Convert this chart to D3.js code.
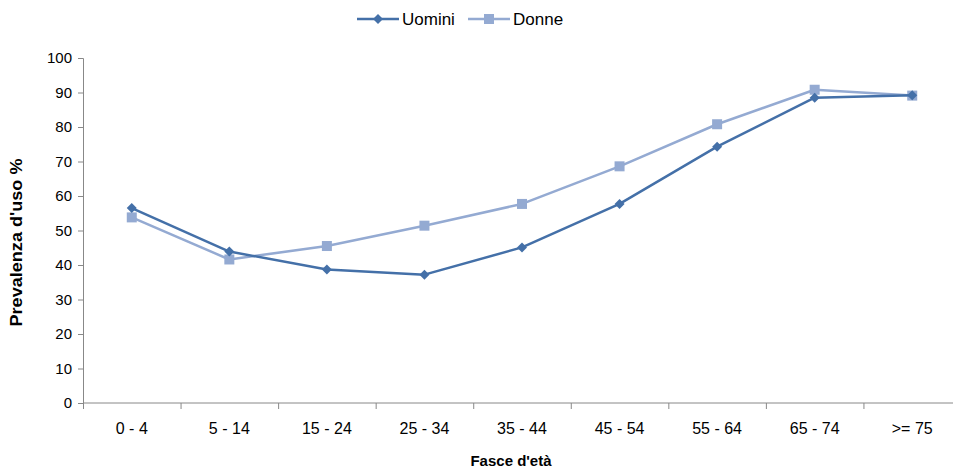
<!DOCTYPE html>
<html>
<head>
<meta charset="utf-8">
<script src="https://cdn.jsdelivr.net/npm/d3@7/dist/d3.min.js"></script>
<style>
  body { margin: 0; background: #fff; }
  svg { display: block; font-family: "Liberation Sans", Arial, sans-serif; }
</style>
</head>
<body>
<svg id="chart"></svg>
<script>
const WIDTH = 953;
const HEIGHT = 469;

const categories = ['0 - 4', '5 - 14', '15 - 24', '25 - 34', '35 - 44', '45 - 54', '55 - 64', '65 - 74', '>= 75'];
const uomini = [56.5, 43.9, 38.7, 37.2, 45.1, 57.7, 74.3, 88.5, 89.2];
const donne = [53.8, 41.6, 45.5, 51.4, 57.7, 68.6, 80.8, 90.8, 89.1];
const yTicks = [0, 10, 20, 30, 40, 50, 60, 70, 80, 90, 100];

const COLOR_U = '#4470a8';
const COLOR_D = '#94aad2';
const AXIS_COLOR = '#888';

const margin = { left: 83, top: 58, right: -8, bottom: 66 };

const svg = d3.select('#chart')
              .attr('width', WIDTH)
              .attr('height', HEIGHT);

const x = d3.scaleBand()
            .domain(categories)
            .range([margin.left, WIDTH - margin.right]);

const y = d3.scaleLinear()
            .domain([0, 100])
            .range([HEIGHT - margin.bottom, margin.top]);

// y axis
const yAxis = svg.append('g')
                 .attr('transform', `translate(${margin.left},0)`)
                 .call(d3.axisLeft(y).tickValues(yTicks).tickSize(5).tickPadding(6));
yAxis.select('.domain').attr('stroke', AXIS_COLOR);
yAxis.selectAll('.tick line').attr('stroke', AXIS_COLOR);
yAxis.selectAll('.tick text')
     .attr('font-size', '15px')
     .attr('fill', '#000')
     .style('font-family', '"Liberation Sans", Arial, sans-serif');

// x axis, ticks at category boundaries
const xAxisG = svg.append('g')
                  .attr('transform', `translate(0,${y(0)})`);
xAxisG.append('line')
      .attr('x1', margin.left).attr('x2', WIDTH + 20)
      .attr('stroke', AXIS_COLOR);
xAxisG.selectAll('line.tick')
      .data(categories)
      .enter().append('line')
      .attr('class', 'tick')
      .attr('x1', d => x(d) + 0.5).attr('x2', d => x(d) + 0.5)
      .attr('y1', 0).attr('y2', 6)
      .attr('stroke', AXIS_COLOR);
xAxisG.selectAll('text')
      .data(categories)
      .enter().append('text')
      .attr('x', d => x(d) + x.bandwidth() / 2)
      .attr('y', 31)
      .attr('text-anchor', 'middle')
      .attr('font-size', '16px')
      .text(d => d);

// axis titles
svg.append('text')
   .attr('transform', `translate(22,${(y(0) + y(100)) / 2 + 12}) rotate(-90)`)
   .attr('text-anchor', 'middle')
   .attr('font-size', '16px')
   .attr('font-weight', 'bold')
   .attr('textLength', 168)
   .attr('lengthAdjust', 'spacingAndGlyphs')
   .text("Prevalenza d'uso %");

svg.append('text')
   .attr('x', 511)
   .attr('y', 466)
   .attr('text-anchor', 'middle')
   .attr('font-size', '15px')
   .attr('font-weight', 'bold')
   .text("Fasce d'età");

// series
const line = d3.line()
               .x((d, i) => x(categories[i]) + x.bandwidth() / 2)
               .y(d => y(d));

const series = [
  { name: 'Uomini', values: uomini, color: COLOR_U, marker: 'diamond' },
  { name: 'Donne', values: donne, color: COLOR_D, marker: 'square' }
];

function marker(g, type, color) {
  if (type === 'diamond') {
    g.append('path')
     .attr('d', 'M0,-5L5,0L0,5L-5,0Z')
     .attr('fill', color);
  } else {
    g.append('rect')
     .attr('x', -5).attr('y', -5)
     .attr('width', 10).attr('height', 10)
     .attr('fill', color);
  }
}

// draw Donne first so Uomini sits on top where they cross
[series[1], series[0]].forEach(s => {
  svg.append('path')
     .datum(s.values)
     .attr('fill', 'none')
     .attr('stroke', s.color)
     .attr('stroke-width', 2.5)
     .attr('stroke-linejoin', 'round')
     .attr('d', line);

  s.values.forEach((v, i) => {
    const g = svg.append('g')
                 .attr('transform', `translate(${x(categories[i]) + x.bandwidth() / 2},${y(v)})`);
    marker(g, s.marker, s.color);
  });
});

// legend
const legendPos = [357, 468];
series.forEach((s, i) => {
  const lg = svg.append('g').attr('transform', `translate(${legendPos[i]},19)`);
  lg.append('line')
    .attr('x1', 0).attr('x2', 42)
    .attr('stroke', s.color)
    .attr('stroke-width', 2.5);
  marker(lg.append('g').attr('transform', 'translate(21,0)'), s.marker, s.color);
  lg.append('text')
    .attr('x', 45)
    .attr('y', 6)
    .attr('font-size', '17px')
    .text(s.name);
});
</script>
</body>
</html>
